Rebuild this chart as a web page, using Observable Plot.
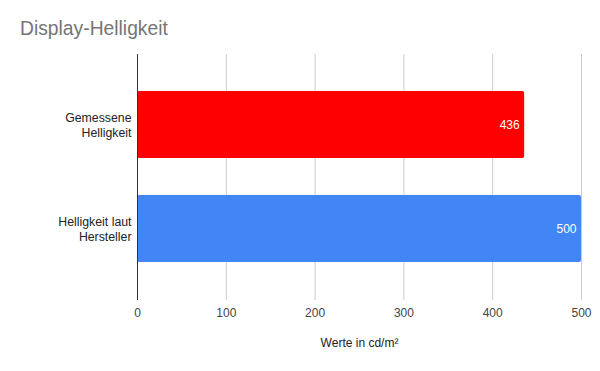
<!DOCTYPE html>
<html>
<head>
<meta charset="utf-8">
<script src="https://cdn.jsdelivr.net/npm/d3@7"></script>
<script src="https://cdn.jsdelivr.net/npm/@observablehq/plot@0.6"></script>
<style>
  body { margin: 0; background: #fff; }
  #wrap { position: relative; width: 600px; height: 371px; font-family: "Liberation Sans", Arial, sans-serif; }
  #title { position: absolute; left: 20px; top: 19px; font-size: 19.3px; color: #757575; line-height: 1; white-space: nowrap; }
</style>
</head>
<body>
<div id="wrap"><div id="title">Display-Helligkeit</div></div>
<script>
const categories = ["Gemessene Helligkeit", "Helligkeit laut Hersteller"];
const tickLabels = ["Gemessene\nHelligkeit", "Helligkeit laut\nHersteller"];
const values = [436, 500];
const colors = ["#FF0000", "#4285F4"];
const xTicks = [0, 100, 200, 300, 400, 500];
const xLabel = "Werte in cd/m²";

const data = categories.map((c, i) => ({category: c, value: values[i], color: colors[i]}));
const labelMap = new Map(categories.map((c, i) => [c, tickLabels[i]]));

const chart = Plot.plot({
  width: 600,
  height: 371,
  marginLeft: 137,
  marginRight: 19,
  marginTop: 54,
  marginBottom: 71,
  style: {fontFamily: "'Liberation Sans', Arial, sans-serif", fontSize: "12px", background: "transparent"},
  x: {domain: [0, 500]},
  y: {domain: categories, padding: 0.355},
  marks: [
    Plot.ruleX(xTicks, {stroke: "#cccccc", strokeWidth: 1}),
    Plot.barX(data, {y: "category", x: "value", fill: "color", rx: 2}),
    Plot.ruleX([0], {stroke: "#333333", strokeWidth: 1}),
    Plot.text(data, {y: "category", x: "value", text: d => String(d.value), textAnchor: "end", dx: -5, fill: "white", fontSize: 12}),
    Plot.axisX({ticks: xTicks, tickSize: 0, tickPadding: 8, fontSize: 12, color: "#444444", label: null}),
    Plot.axisY({tickSize: 0, tickPadding: 6, fontSize: 12.3, color: "#222222", lineHeight: 1.2, tickFormat: d => labelMap.get(d), label: null}),
    Plot.text([xLabel], {frameAnchor: "bottom", dy: 46, text: d => d, fontSize: 12, fill: "#222222"})
  ]
});
document.getElementById("wrap").appendChild(chart);
</script>
</body>
</html>
